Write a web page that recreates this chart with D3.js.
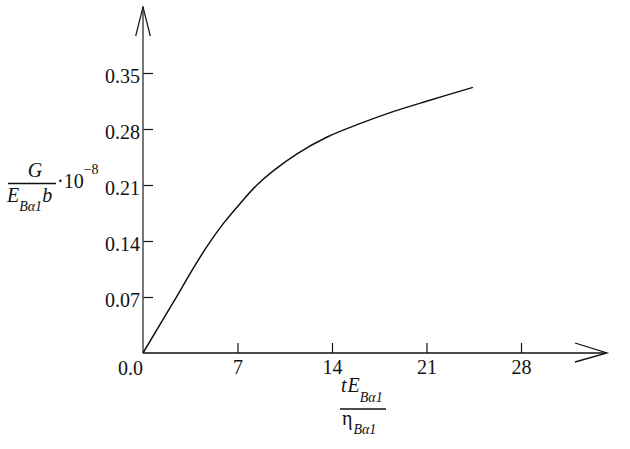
<!DOCTYPE html>
<html><head><meta charset="utf-8">
<script src="https://cdnjs.cloudflare.com/ajax/libs/d3/7.8.5/d3.min.js"></script>
<style>
html,body{margin:0;padding:0;background:#fff;}
svg{display:block;}
</style></head>
<body><svg id="c" width="630" height="449"></svg>
<script>
// Data
const xVals = [0, 2.25, 3.73, 4.73, 5.96, 7.2, 8.44, 9.67, 11.41, 13.64, 16.11, 18.58, 21.06, 24.44];
const yVals = [0, 0.0635, 0.106, 0.133, 0.162, 0.187, 0.210, 0.228, 0.249, 0.270, 0.287, 0.302, 0.315, 0.332];
const xTicks = [7, 14, 21, 28];
const yTicks = [0.07, 0.14, 0.21, 0.28, 0.35];

const FONT = "'Liberation Serif', 'Times New Roman', serif";
const svg = d3.select("#c").style("font-family", FONT);
const x = d3.scaleLinear().domain([0, 28]).range([143, 521]);
const y = d3.scaleLinear().domain([0, 0.35]).range([353, 73]);

// X axis ticks
const gx = svg.append("g").attr("transform", "translate(0,353)")
  .call(d3.axisBottom(x).tickValues(xTicks).tickSize(-10).tickPadding(7).tickFormat(d3.format("d")));
gx.attr("font-family", null);
gx.select(".domain").remove();
gx.selectAll("line").attr("stroke", "#111").attr("stroke-width", 1.2);
gx.selectAll("text").attr("font-size", 20).attr("fill", "#111").style("font-family", FONT);

// Y axis ticks
const gy = svg.append("g").attr("transform", "translate(143,0)")
  .call(d3.axisLeft(y).tickValues(yTicks).tickSize(-10).tickPadding(3).tickFormat(d3.format(".2f")));
gy.attr("font-family", null);
gy.select(".domain").remove();
gy.selectAll("line").attr("stroke", "#111").attr("stroke-width", 1.2);
gy.selectAll("text").attr("font-size", 20).attr("fill", "#111").attr("dy", "0.48em").style("font-family", FONT);

// origin label
svg.append("text").attr("x", 143).attr("y", 375).attr("text-anchor", "end")
  .attr("font-size", 20).attr("fill", "#111").style("font-family", FONT).text("0.0");

// Axis lines with arrows
svg.append("line").attr("x1", 143).attr("y1", 353).attr("x2", 143).attr("y2", 6)
  .attr("stroke", "#555").attr("stroke-width", 1.6);
svg.append("path").attr("d", "M135.7,36 L143,7 L150.3,36").attr("fill", "none")
  .attr("stroke", "#222").attr("stroke-width", 1.3);
svg.append("line").attr("x1", 143).attr("y1", 353).attr("x2", 606).attr("y2", 353)
  .attr("stroke", "#111").attr("stroke-width", 1.4);
svg.append("path").attr("d", "M575,343 L607,353 L575,362").attr("fill", "none")
  .attr("stroke", "#111").attr("stroke-width", 1.3);

// Curve
const line = d3.line().x((d, i) => x(xVals[i])).y((d, i) => y(yVals[i])).curve(d3.curveCatmullRom);
svg.append("path").datum(yVals).attr("d", line).attr("fill", "none")
  .attr("stroke", "#111").attr("stroke-width", 1.5);

// Y axis label: G / (E_Bα1 b) · 10^-8
const yl = svg.append("g").attr("fill", "#111").style("font-family", FONT);
yl.append("text").attr("x", 35).attr("y", 177).attr("text-anchor", "middle")
  .attr("font-size", 20).attr("font-style", "italic").text("G");
yl.append("line").attr("x1", 8).attr("x2", 56).attr("y1", 183.5).attr("y2", 183.5)
  .attr("stroke", "#111").attr("stroke-width", 1.3);
const yd = yl.append("text").attr("x", 7).attr("y", 202).attr("font-size", 20).attr("font-style", "italic");
yd.append("tspan").text("E");
yd.append("tspan").attr("font-size", 14).attr("dy", 9).text("Bα1");
yd.append("tspan").attr("dy", -9).text("b");
const yp = yl.append("text").attr("x", 57).attr("y", 188).attr("font-size", 20);
yp.append("tspan").text("·10");
yp.append("tspan").attr("font-size", 14).attr("dy", -14).text("−8");

// X axis label: tE_Bα1 / η_Bα1
const xl = svg.append("g").attr("fill", "#111").style("font-family", FONT);
const xn = xl.append("text").attr("x", 341).attr("y", 392).attr("font-size", 20).attr("font-style", "italic");
xn.append("tspan").text("t");
xn.append("tspan").attr("dx", 1).text("E");
xn.append("tspan").attr("font-size", 14).attr("dy", 10).text("Bα1");
xl.append("line").attr("x1", 340).attr("x2", 386).attr("y1", 409).attr("y2", 409)
  .attr("stroke", "#111").attr("stroke-width", 1.3);
const xd = xl.append("text").attr("x", 342).attr("y", 425).attr("font-size", 20);
xd.append("tspan").text("η");
xd.append("tspan").attr("font-size", 14).attr("font-style", "italic").attr("dx", 1).attr("dy", 9).text("Bα1");
</script></body></html>
